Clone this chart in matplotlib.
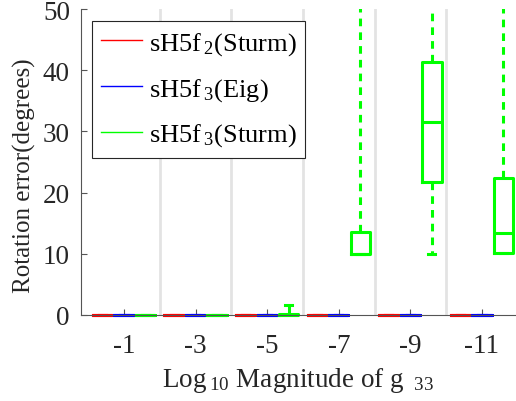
import matplotlib.pyplot as plt
from matplotlib.lines import Line2D

plt.rcParams['font.family'] = ['Liberation Serif', 'DejaVu Serif']
plt.rcParams['mathtext.fontset'] = 'custom'
plt.rcParams['mathtext.rm'] = 'Liberation Serif'
plt.rcParams['mathtext.it'] = 'Liberation Serif'

# data
groups = ['-1', '-3', '-5', '-7', '-9', '-11']
series = [r'sH5f$\,_2$(Sturm)', r'sH5f$\,_3$(Eig)', r'sH5f$\,_3$(Sturm)']
colors = ['#FF0000', '#0000FF', '#00FF00']

# box stats per series, one value per group
q1 = [[0, 0, 0, 0, 0, 0],
      [0, 0, 0, 0, 0, 0],
      [0, 0, 0, 10.0, 21.7, 10.1]]
med = [[0, 0, 0, 0, 0, 0],
       [0, 0, 0, 0, 0, 0],
       [0, 0, 0, 10.0, 31.5, 13.4]]
q3 = [[0, 0, 0, 0, 0, 0],
      [0, 0, 0, 0, 0, 0],
      [0, 0, 0.2, 13.6, 41.3, 22.4]]
whislo = [[0, 0, 0, 0, 0, 0],
          [0, 0, 0, 0, 0, 0],
          [0, 0, 0, 10.0, 10.0, 10.1]]
whishi = [[0, 0, 0, 0, 0, 0],
          [0, 0, 0, 0, 0, 0],
          [0, 0, 1.6, 75.0, 80.0, 70.0]]

offsets = [-0.3, 0.0, 0.3]

fig = plt.figure(figsize=(5.16, 4.02), dpi=100)
ax = fig.add_axes([81 / 516, 1 - 316 / 402, 1 - 81 / 516, 306 / 402])

for s in range(len(series)):
    stats = []
    for g in range(len(groups)):
        stats.append({'q1': q1[s][g], 'med': med[s][g], 'q3': q3[s][g],
                      'whislo': whislo[s][g], 'whishi': whishi[s][g],
                      'fliers': []})
    pos = [g + 1 + offsets[s] for g in range(len(groups))]
    c = colors[s]
    parts = ax.bxp(stats, positions=pos, widths=0.27, showfliers=False,
                   manage_ticks=False,
                   boxprops=dict(color=c, linewidth=2.2),
                   medianprops=dict(color=c, linewidth=2.2),
                   whiskerprops=dict(color=c, linewidth=2.2, linestyle=(0, (2.5, 2))),
                   capprops=dict(color=c, linewidth=2.2),
                   capwidths=0.1)
    # flat boxes sit on the axis; let them show full thickness
    for art in parts['boxes'] + parts['medians']:
        art.set_clip_on(False)

ax.set_xlim(0.4, 6.475)
ax.set_ylim(0, 50)
ax.set_xticks(range(1, len(groups) + 1))
ax.set_xticklabels(groups)
ax.set_yticks([0, 10, 20, 30, 40, 50])
ax.set_xticks([1.5, 2.5, 3.5, 4.5, 5.5], minor=True)
ax.grid(True, which='minor', axis='x', color='#e3e3e3', linewidth=2)
ax.set_axisbelow(True)
ax.tick_params(which='major', direction='in', length=4, labelsize=19.5,
               color='#555555', labelcolor='#262626')
ax.tick_params(axis='x', pad=13)
ax.tick_params(axis='y', pad=8)
ax.tick_params(which='minor', length=0)

ax.spines['top'].set_visible(False)
ax.spines['right'].set_visible(False)
ax.spines['left'].set_color('#555555')
ax.spines['bottom'].set_color('#555555')

ax.set_ylabel('Rotation error(degrees)', fontsize=18, color='#262626')
ax.yaxis.set_label_coords(-0.103, 0.457)
ax.set_xlabel(r'Log$\,_{10}$ Magnitude of g$\ \,_{33}$', fontsize=19.5,
              color='#262626', labelpad=5)

handles = [Line2D([0], [0], color=c, linewidth=1) for c in colors]
leg = ax.legend(handles, series, loc='upper left',
                bbox_to_anchor=(0.025, 0.962), fontsize=19,
                fancybox=False, edgecolor='#262626', framealpha=1,
                handlelength=1.55, handletextpad=0.25, borderaxespad=0,
                labelspacing=0.72, borderpad=0.35)
leg.get_frame().set_linewidth(0.8)

fig.savefig('out.png', dpi=100)
